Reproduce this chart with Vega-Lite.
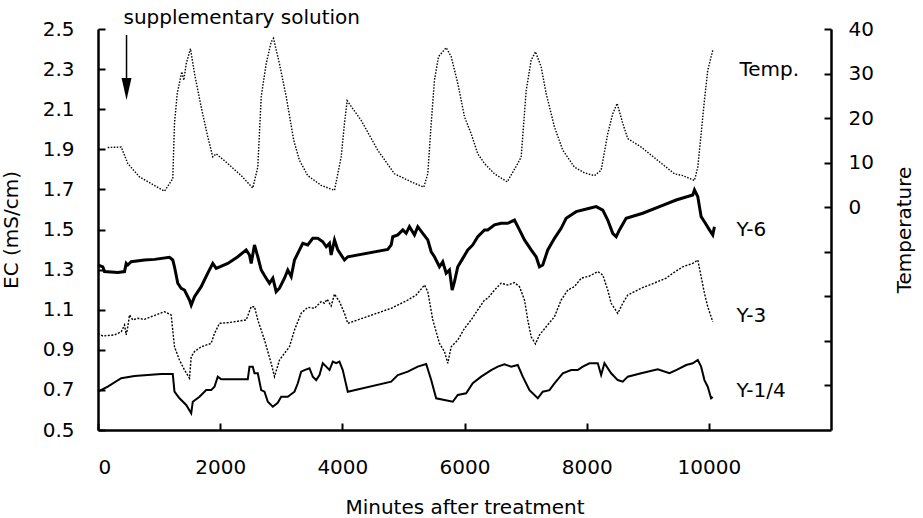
{
  "$schema": "https://vega.github.io/schema/vega-lite/v6.json",
  "width": 733,
  "height": 401,
  "autosize": "none",
  "padding": {"left": 98, "top": 29, "right": 92, "bottom": 88},
  "background": "white",
  "config": {
    "view": {"stroke": null},
    "axis": {
      "labelFont": "DejaVu Sans", "labelFontSize": 20, "labelColor": "black",
      "titleFont": "DejaVu Sans", "titleFontSize": 20, "titleFontWeight": "normal", "titleColor": "black",
      "domainColor": "black", "tickColor": "black", "grid": false, "domainWidth": 2.5, "tickWidth": 2
    }
  },
  "datasets": {
    "temp": [
      {"t":160,"v":13.4},{"t":380,"v":13.5},{"t":488,"v":9.8},{"t":679,"v":6.8},{"t":897,"v":5.1},{"t":1089,"v":3.6},
      {"t":1224,"v":6.4},{"t":1252,"v":18.8},{"t":1297,"v":25.5},{"t":1372,"v":30.4},{"t":1405,"v":28.5},{"t":1444,"v":32.2},
      {"t":1514,"v":35.6},{"t":1580,"v":30.0},{"t":1689,"v":22.5},{"t":1797,"v":15.8},{"t":1879,"v":11.3},{"t":1935,"v":12.0},
      {"t":2125,"v":9.8},{"t":2344,"v":7.1},{"t":2534,"v":4.3},{"t":2616,"v":9.0},{"t":2672,"v":24.8},{"t":2753,"v":32.2},
      {"t":2835,"v":37.1},{"t":2873,"v":37.9},{"t":2971,"v":32.2},{"t":3081,"v":24.8},{"t":3205,"v":15.0},{"t":3299,"v":10.5},
      {"t":3434,"v":7.1},{"t":3654,"v":4.9},{"t":3872,"v":3.8},{"t":3981,"v":11.3},{"t":4035,"v":18.8},{"t":4079,"v":23.9},
      {"t":4308,"v":19.5},{"t":4580,"v":12.8},{"t":4854,"v":7.5},{"t":5127,"v":5.7},{"t":5333,"v":4.5},{"t":5399,"v":7.5},
      {"t":5455,"v":18.8},{"t":5508,"v":28.5},{"t":5574,"v":33.8},{"t":5700,"v":35.8},{"t":5782,"v":33.8},{"t":5890,"v":27.8},
      {"t":6000,"v":20.3},{"t":6109,"v":16.5},{"t":6217,"v":12.0},{"t":6327,"v":9.8},{"t":6491,"v":7.5},{"t":6699,"v":5.7},
      {"t":6872,"v":9.8},{"t":6928,"v":11.3},{"t":7010,"v":26.2},{"t":7091,"v":33.0},{"t":7162,"v":34.9},{"t":7255,"v":31.5},
      {"t":7337,"v":25.5},{"t":7473,"v":18.0},{"t":7609,"v":12.8},{"t":7800,"v":9.0},{"t":7964,"v":7.7},{"t":8128,"v":7.1},
      {"t":8237,"v":8.3},{"t":8345,"v":16.5},{"t":8427,"v":21.0},{"t":8499,"v":23.3},{"t":8591,"v":18.8},{"t":8673,"v":15.4},
      {"t":8892,"v":13.5},{"t":9164,"v":10.5},{"t":9437,"v":7.5},{"t":9573,"v":7.1},{"t":9765,"v":6.0},{"t":9819,"v":9.0},
      {"t":9874,"v":16.5},{"t":9928,"v":24.0},{"t":9982,"v":30.7},{"t":10064,"v":35.2}
    ],
    "y6": [
      {"t":0,"ec":1.323},{"t":79,"ec":1.314},{"t":106,"ec":1.290},{"t":324,"ec":1.285},{"t":434,"ec":1.290},{"t":462,"ec":1.331},
      {"t":488,"ec":1.323},{"t":543,"ec":1.339},{"t":761,"ec":1.348},{"t":925,"ec":1.351},{"t":1170,"ec":1.361},{"t":1224,"ec":1.348},
      {"t":1252,"ec":1.314},{"t":1306,"ec":1.232},{"t":1362,"ec":1.207},{"t":1416,"ec":1.198},{"t":1498,"ec":1.148},{"t":1526,"ec":1.123},
      {"t":1580,"ec":1.165},{"t":1689,"ec":1.215},{"t":1797,"ec":1.282},{"t":1879,"ec":1.331},{"t":1935,"ec":1.306},{"t":2125,"ec":1.331},
      {"t":2289,"ec":1.364},{"t":2426,"ec":1.398},{"t":2480,"ec":1.373},{"t":2508,"ec":1.331},{"t":2562,"ec":1.423},{"t":2616,"ec":1.364},
      {"t":2672,"ec":1.298},{"t":2753,"ec":1.257},{"t":2807,"ec":1.232},{"t":2862,"ec":1.257},{"t":2917,"ec":1.190},{"t":2971,"ec":1.207},
      {"t":3053,"ec":1.257},{"t":3107,"ec":1.298},{"t":3163,"ec":1.265},{"t":3217,"ec":1.348},{"t":3299,"ec":1.398},{"t":3353,"ec":1.431},
      {"t":3434,"ec":1.423},{"t":3516,"ec":1.456},{"t":3598,"ec":1.456},{"t":3680,"ec":1.439},{"t":3736,"ec":1.414},{"t":3790,"ec":1.431},
      {"t":3817,"ec":1.373},{"t":3872,"ec":1.448},{"t":3926,"ec":1.398},{"t":4035,"ec":1.348},{"t":4089,"ec":1.364},{"t":4744,"ec":1.401},
      {"t":4800,"ec":1.423},{"t":4826,"ec":1.464},{"t":4908,"ec":1.473},{"t":4990,"ec":1.498},{"t":5045,"ec":1.481},{"t":5099,"ec":1.514},
      {"t":5181,"ec":1.473},{"t":5235,"ec":1.514},{"t":5317,"ec":1.481},{"t":5399,"ec":1.448},{"t":5455,"ec":1.389},{"t":5508,"ec":1.364},
      {"t":5590,"ec":1.314},{"t":5644,"ec":1.339},{"t":5700,"ec":1.282},{"t":5754,"ec":1.298},{"t":5798,"ec":1.198},{"t":5836,"ec":1.240},
      {"t":5890,"ec":1.314},{"t":5972,"ec":1.356},{"t":6054,"ec":1.398},{"t":6135,"ec":1.423},{"t":6217,"ec":1.464},{"t":6327,"ec":1.498},
      {"t":6381,"ec":1.498},{"t":6491,"ec":1.523},{"t":6600,"ec":1.531},{"t":6708,"ec":1.531},{"t":6818,"ec":1.547},{"t":6900,"ec":1.498},
      {"t":6982,"ec":1.448},{"t":7091,"ec":1.398},{"t":7173,"ec":1.364},{"t":7227,"ec":1.314},{"t":7281,"ec":1.323},{"t":7363,"ec":1.398},
      {"t":7473,"ec":1.456},{"t":7582,"ec":1.506},{"t":7664,"ec":1.556},{"t":7828,"ec":1.589},{"t":8046,"ec":1.606},{"t":8155,"ec":1.614},
      {"t":8264,"ec":1.597},{"t":8345,"ec":1.547},{"t":8427,"ec":1.481},{"t":8483,"ec":1.464},{"t":8537,"ec":1.498},{"t":8646,"ec":1.556},
      {"t":8918,"ec":1.581},{"t":9192,"ec":1.614},{"t":9465,"ec":1.647},{"t":9737,"ec":1.672},{"t":9765,"ec":1.697},{"t":9819,"ec":1.664},
      {"t":9874,"ec":1.564},{"t":9928,"ec":1.539},{"t":10010,"ec":1.498},{"t":10064,"ec":1.473},{"t":10092,"ec":1.514}
    ],
    "y3": [
      {"t":0,"ec":0.982},{"t":79,"ec":0.969},{"t":270,"ec":0.974},{"t":380,"ec":0.990},{"t":434,"ec":1.024},{"t":462,"ec":0.974},
      {"t":488,"ec":1.015},{"t":516,"ec":1.074},{"t":570,"ec":1.049},{"t":652,"ec":1.057},{"t":761,"ec":1.052},{"t":871,"ec":1.065},
      {"t":1089,"ec":1.090},{"t":1198,"ec":1.074},{"t":1252,"ec":0.915},{"t":1334,"ec":0.849},{"t":1416,"ec":0.799},{"t":1498,"ec":0.758},
      {"t":1526,"ec":0.866},{"t":1580,"ec":0.891},{"t":1689,"ec":0.915},{"t":1853,"ec":0.932},{"t":1907,"ec":0.982},{"t":1989,"ec":1.032},
      {"t":2125,"ec":1.035},{"t":2426,"ec":1.049},{"t":2508,"ec":1.115},{"t":2562,"ec":1.115},{"t":2616,"ec":1.049},{"t":2726,"ec":0.949},
      {"t":2835,"ec":0.833},{"t":2889,"ec":0.766},{"t":2971,"ec":0.849},{"t":3053,"ec":0.883},{"t":3135,"ec":0.915},{"t":3217,"ec":0.999},
      {"t":3326,"ec":1.082},{"t":3434,"ec":1.112},{"t":3544,"ec":1.107},{"t":3654,"ec":1.140},{"t":3708,"ec":1.132},{"t":3752,"ec":1.152},
      {"t":3817,"ec":1.118},{"t":3872,"ec":1.178},{"t":3953,"ec":1.140},{"t":4035,"ec":1.082},{"t":4089,"ec":1.032},{"t":4800,"ec":1.107},
      {"t":5071,"ec":1.148},{"t":5209,"ec":1.173},{"t":5345,"ec":1.223},{"t":5399,"ec":1.190},{"t":5481,"ec":1.049},{"t":5590,"ec":0.932},
      {"t":5672,"ec":0.891},{"t":5726,"ec":0.833},{"t":5782,"ec":0.915},{"t":5890,"ec":0.949},{"t":6000,"ec":1.007},{"t":6109,"ec":1.049},
      {"t":6217,"ec":1.099},{"t":6327,"ec":1.148},{"t":6381,"ec":1.157},{"t":6491,"ec":1.198},{"t":6600,"ec":1.232},{"t":6708,"ec":1.223},
      {"t":6818,"ec":1.235},{"t":6900,"ec":1.215},{"t":6982,"ec":1.148},{"t":7036,"ec":1.049},{"t":7091,"ec":0.965},{"t":7162,"ec":0.929},
      {"t":7227,"ec":0.974},{"t":7337,"ec":1.015},{"t":7473,"ec":1.065},{"t":7582,"ec":1.148},{"t":7691,"ec":1.198},{"t":7800,"ec":1.215},
      {"t":7910,"ec":1.257},{"t":8046,"ec":1.268},{"t":8182,"ec":1.290},{"t":8264,"ec":1.273},{"t":8345,"ec":1.198},{"t":8401,"ec":1.132},
      {"t":8509,"ec":1.082},{"t":8591,"ec":1.132},{"t":8673,"ec":1.173},{"t":8892,"ec":1.207},{"t":9164,"ec":1.240},{"t":9301,"ec":1.257},
      {"t":9409,"ec":1.282},{"t":9573,"ec":1.314},{"t":9737,"ec":1.331},{"t":9819,"ec":1.348},{"t":9874,"ec":1.265},{"t":9928,"ec":1.182},
      {"t":9982,"ec":1.115},{"t":10064,"ec":1.040}
    ],
    "y14": [
      {"t":0,"ec":0.691},{"t":160,"ec":0.716},{"t":380,"ec":0.758},{"t":597,"ec":0.769},{"t":815,"ec":0.774},{"t":1035,"ec":0.779},
      {"t":1224,"ec":0.779},{"t":1252,"ec":0.691},{"t":1334,"ec":0.658},{"t":1444,"ec":0.625},{"t":1526,"ec":0.583},{"t":1552,"ec":0.641},
      {"t":1662,"ec":0.666},{"t":1771,"ec":0.699},{"t":1853,"ec":0.699},{"t":1907,"ec":0.716},{"t":1961,"ec":0.766},{"t":2017,"ec":0.753},
      {"t":2452,"ec":0.753},{"t":2480,"ec":0.816},{"t":2534,"ec":0.816},{"t":2562,"ec":0.783},{"t":2616,"ec":0.783},{"t":2672,"ec":0.699},
      {"t":2726,"ec":0.691},{"t":2780,"ec":0.641},{"t":2862,"ec":0.616},{"t":2943,"ec":0.636},{"t":2999,"ec":0.666},{"t":3107,"ec":0.666},
      {"t":3217,"ec":0.691},{"t":3271,"ec":0.733},{"t":3326,"ec":0.791},{"t":3380,"ec":0.799},{"t":3462,"ec":0.808},{"t":3516,"ec":0.766},
      {"t":3572,"ec":0.749},{"t":3626,"ec":0.774},{"t":3680,"ec":0.833},{"t":3736,"ec":0.816},{"t":3790,"ec":0.799},{"t":3844,"ec":0.841},
      {"t":3899,"ec":0.833},{"t":3953,"ec":0.841},{"t":4007,"ec":0.799},{"t":4089,"ec":0.691},{"t":4800,"ec":0.741},{"t":4908,"ec":0.774},
      {"t":5071,"ec":0.791},{"t":5235,"ec":0.816},{"t":5373,"ec":0.829},{"t":5455,"ec":0.749},{"t":5536,"ec":0.658},{"t":5672,"ec":0.650},
      {"t":5808,"ec":0.641},{"t":5890,"ec":0.675},{"t":6027,"ec":0.683},{"t":6135,"ec":0.733},{"t":6273,"ec":0.766},{"t":6437,"ec":0.799},
      {"t":6545,"ec":0.816},{"t":6654,"ec":0.828},{"t":6764,"ec":0.816},{"t":6872,"ec":0.824},{"t":6954,"ec":0.766},{"t":7064,"ec":0.699},
      {"t":7200,"ec":0.658},{"t":7281,"ec":0.691},{"t":7391,"ec":0.699},{"t":7473,"ec":0.733},{"t":7609,"ec":0.783},{"t":7746,"ec":0.799},
      {"t":7854,"ec":0.799},{"t":7936,"ec":0.816},{"t":8046,"ec":0.833},{"t":8182,"ec":0.833},{"t":8237,"ec":0.774},{"t":8291,"ec":0.833},
      {"t":8401,"ec":0.783},{"t":8509,"ec":0.749},{"t":8591,"ec":0.741},{"t":8673,"ec":0.766},{"t":8892,"ec":0.783},{"t":9164,"ec":0.803},
      {"t":9355,"ec":0.783},{"t":9465,"ec":0.799},{"t":9629,"ec":0.824},{"t":9737,"ec":0.833},{"t":9819,"ec":0.849},{"t":9874,"ec":0.816},
      {"t":9928,"ec":0.749},{"t":9982,"ec":0.716},{"t":10037,"ec":0.658},{"t":10064,"ec":0.665}
    ],
    "labels": [
      {"t":10501,"ec":2.295,"label":"Temp."},
      {"t":10452,"ec":1.4975,"label":"Y-6"},
      {"t":10452,"ec":1.069,"label":"Y-3"},
      {"t":10452,"ec":0.695,"label":"Y-1/4"}
    ],
    "note": [{"t":417,"ec":2.555,"label":"supplementary solution"}],
    "arrow": [{"t":467,"ec":2.47,"ec2":2.22,"head":2.2007}]
  },
  "layer": [
    {
      "layer": [
        {
          "data": {"name": "y6"},
          "mark": {"type": "line", "color": "black", "strokeWidth": 3},
          "encoding": {
            "x": {"field": "t", "type": "quantitative", "scale": {"domain": [0, 12000], "nice": false},
              "axis": {"values": [0,2000,4000,6000,8000,10000], "format": "d", "title": "Minutes after treatment", "tickSize": -7, "labelPadding": 34, "titlePadding": 20}},
            "y": {"field": "ec", "type": "quantitative", "scale": {"domain": [0.5, 2.5], "nice": false, "zero": false},
              "axis": {"orient": "left", "values": [0.5,0.7,0.9,1.1,1.3,1.5,1.7,1.9,2.1,2.3,2.5], "format": ".1f", "title": "EC (mS/cm)", "tickSize": -7, "labelPadding": 31, "titlePadding": 21}}
          }
        },
        {
          "data": {"name": "y3"},
          "mark": {"type": "line", "color": "black", "strokeWidth": 1.4, "strokeDash": [2, 1.5]},
          "encoding": {
            "x": {"field": "t", "type": "quantitative"},
            "y": {"field": "ec", "type": "quantitative"}
          }
        },
        {
          "data": {"name": "y14"},
          "mark": {"type": "line", "color": "black", "strokeWidth": 2},
          "encoding": {
            "x": {"field": "t", "type": "quantitative"},
            "y": {"field": "ec", "type": "quantitative"}
          }
        },
        {
          "data": {"name": "labels"},
          "mark": {"type": "text", "align": "left", "baseline": "middle", "font": "DejaVu Sans", "fontSize": 20, "color": "black"},
          "encoding": {
            "x": {"field": "t", "type": "quantitative"},
            "y": {"field": "ec", "type": "quantitative"},
            "text": {"field": "label"}
          }
        },
        {
          "data": {"name": "note"},
          "mark": {"type": "text", "align": "left", "baseline": "middle", "font": "DejaVu Sans", "fontSize": 20, "color": "black", "clip": false},
          "encoding": {
            "x": {"field": "t", "type": "quantitative"},
            "y": {"field": "ec", "type": "quantitative"},
            "text": {"field": "label"}
          }
        },
        {
          "data": {"name": "arrow"},
          "mark": {"type": "rule", "color": "black", "strokeWidth": 1.5},
          "encoding": {
            "x": {"field": "t", "type": "quantitative"},
            "y": {"field": "ec", "type": "quantitative"},
            "y2": {"field": "ec2"}
          }
        },
        {
          "data": {"name": "arrow"},
          "mark": {"type": "point", "shape": "M-0.45,-1L0.45,-1L0,1Z", "size": 484, "filled": true, "color": "black", "opacity": 1},
          "encoding": {
            "x": {"field": "t", "type": "quantitative"},
            "y": {"field": "head", "type": "quantitative"}
          }
        }
      ]
    },
    {
      "data": {"name": "temp"},
      "mark": {"type": "line", "color": "black", "strokeWidth": 1.4, "strokeDash": [1.5, 1.5]},
      "encoding": {
        "x": {"field": "t", "type": "quantitative"},
        "y": {"field": "v", "type": "quantitative", "scale": {"domain": [-50, 40], "nice": false, "zero": false},
          "axis": {"orient": "right", "values": [-40,-30,-20,-10,0,10,20,30,40], "labelExpr": "datum.value >= 0 ? datum.label : ''", "title": "Temperature", "titleAngle": 270, "tickSize": -7, "labelPadding": 24, "titlePadding": 41}}
      }
    }
  ],
  "resolve": {"scale": {"y": "independent"}}
}
